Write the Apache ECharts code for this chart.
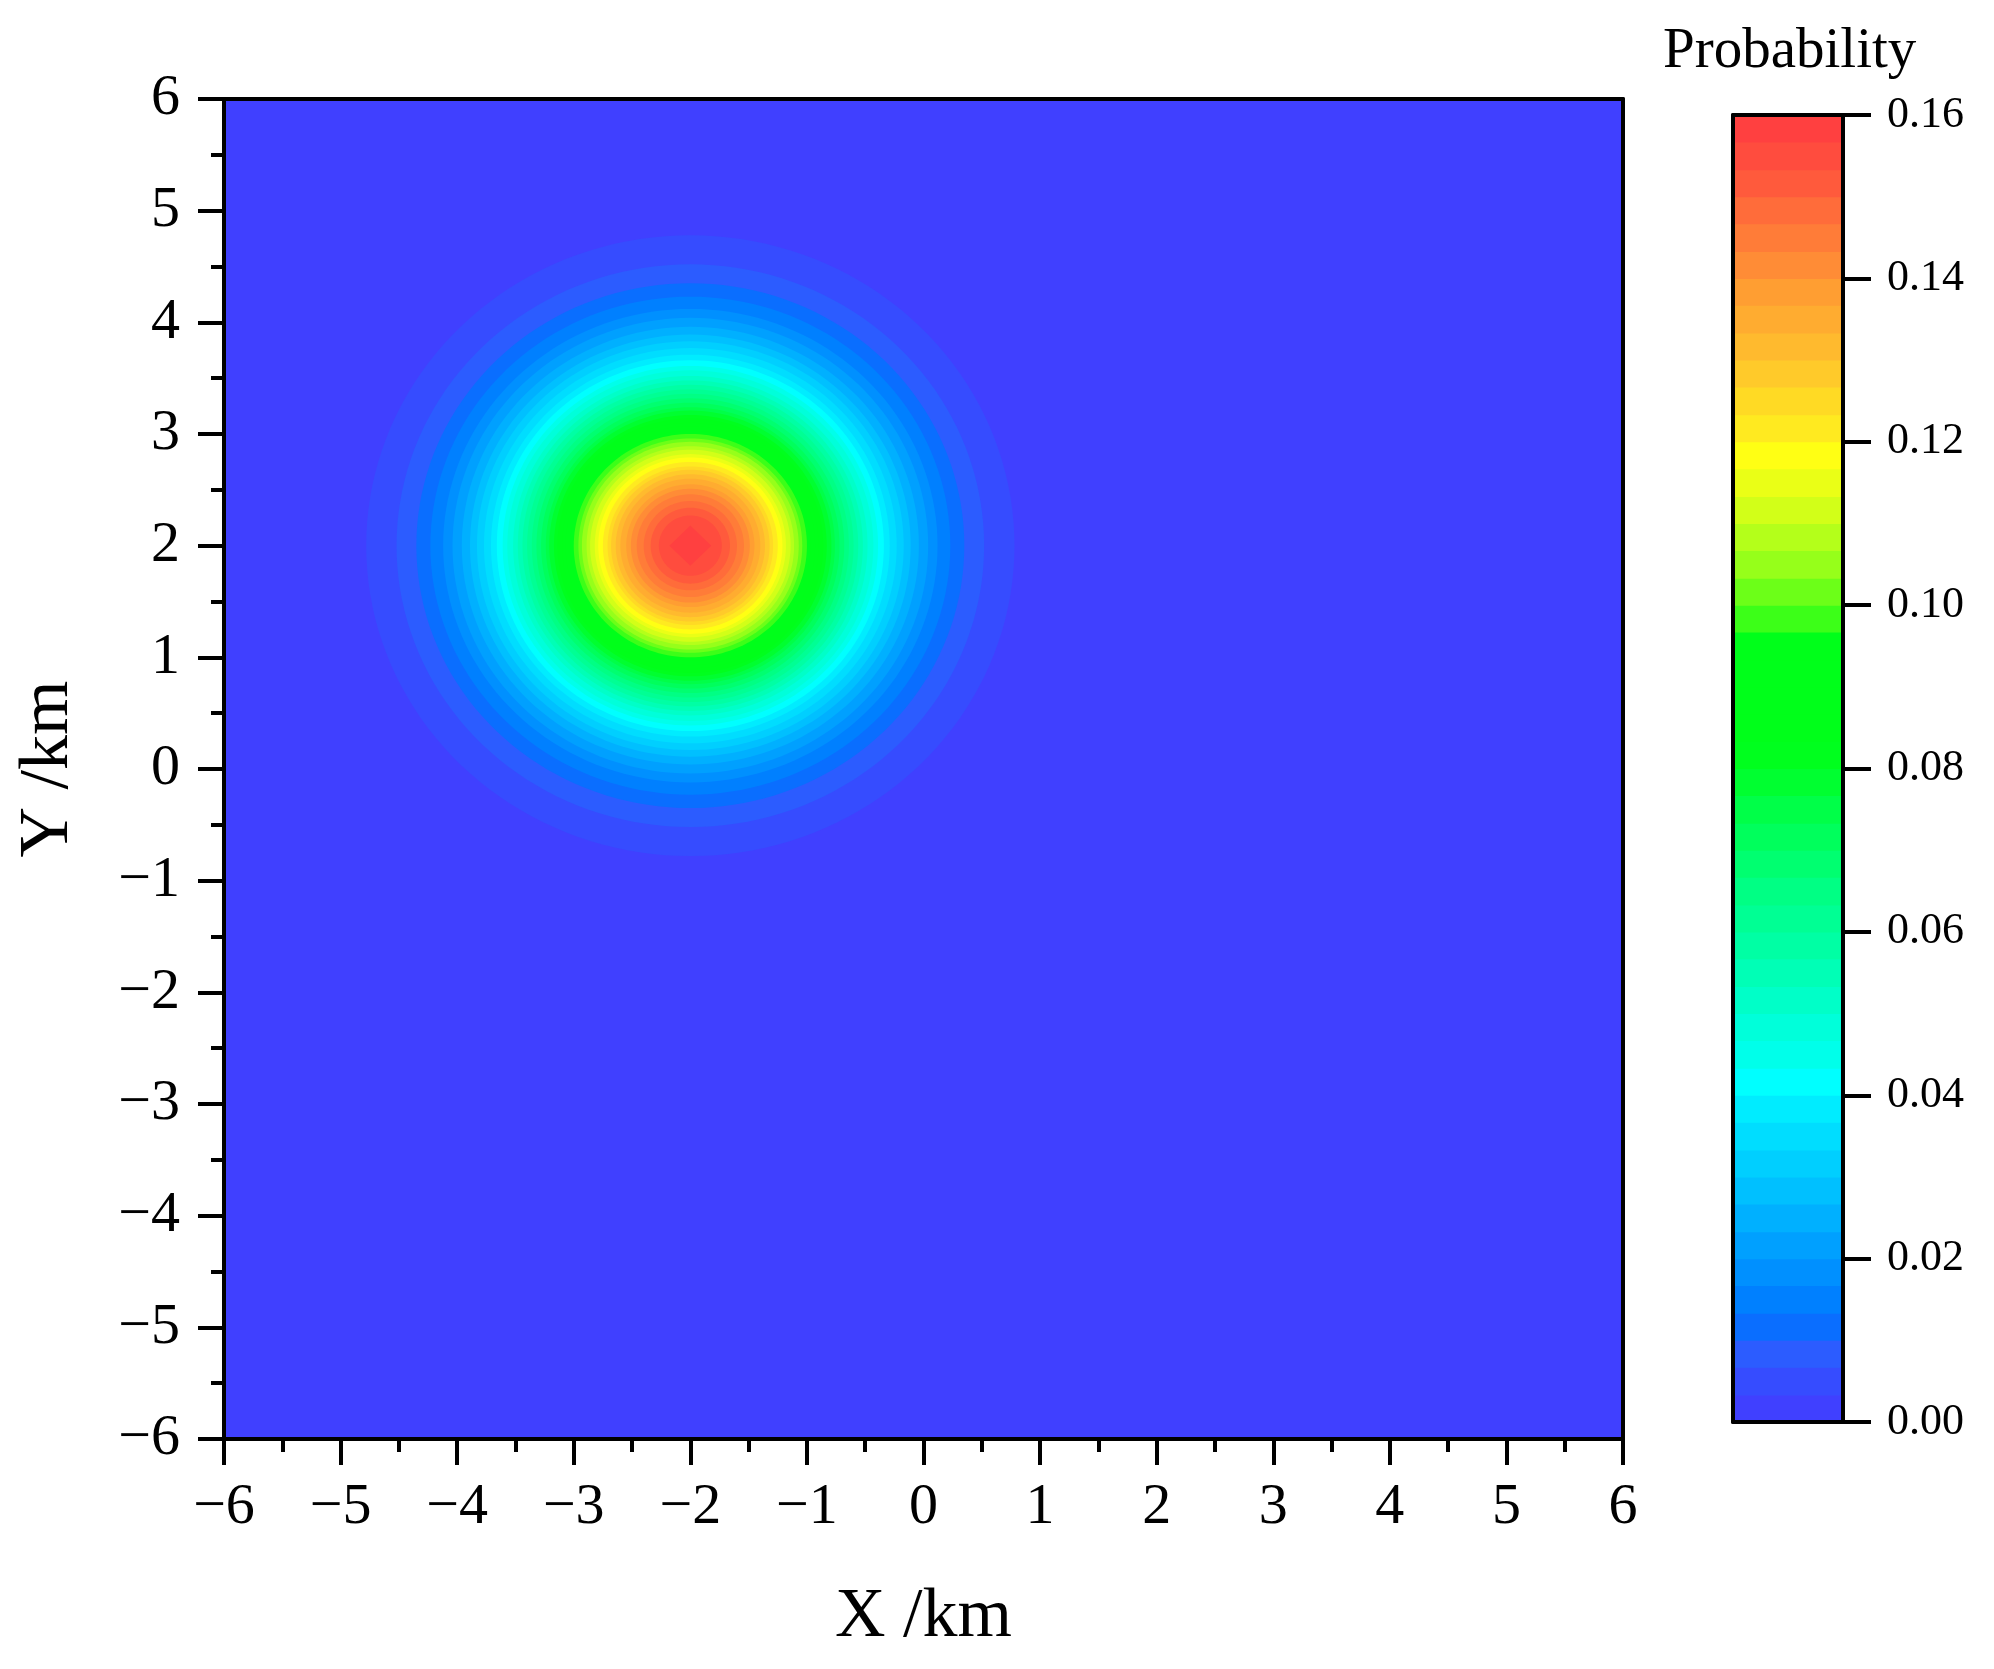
<!DOCTYPE html>
<html>
<head>
<meta charset="utf-8">
<title>Probability</title>
<script src="https://cdn.jsdelivr.net/npm/echarts@6/dist/echarts.min.js"></script>
<style>
  html, body { margin: 0; padding: 0; background: #fff; }
  #chart { width: 1994px; height: 1669px; }
</style>
</head>
<body>
<div id="chart"></div>
<script>
// 概率峰中心 (km)
const peakCenter = [-2, 2];

// 色标分级边界 (48 级)
const levels = [
  0.0000, 0.0033, 0.0067, 0.0100, 0.0133, 0.0167, 0.0200, 0.0233, 0.0267, 0.0300,
  0.0333, 0.0367, 0.0400, 0.0433, 0.0467, 0.0500, 0.0533, 0.0567, 0.0600, 0.0633,
  0.0667, 0.0700, 0.0733, 0.0767, 0.0800, 0.0833, 0.0867, 0.0900, 0.0933, 0.0967,
  0.1000, 0.1033, 0.1067, 0.1100, 0.1133, 0.1167, 0.1200, 0.1233, 0.1267, 0.1300,
  0.1333, 0.1367, 0.1400, 0.1433, 0.1467, 0.1500, 0.1533, 0.1567, 0.1600
];

// 每条等值线的半径 (km)，从图上量取；第 i 个对应 levels[i + 1]
const ringRadius = [
  2.78, 2.52, 2.35, 2.23, 2.12, 2.04, 1.96, 1.89, 1.83, 1.77,
  1.71, 1.66, 1.61, 1.57, 1.52, 1.48, 1.44, 1.40, 1.36, 1.32,
  1.28, 1.24, 1.21, 1.17, 1.14, 1.10, 1.07, 1.03, 1.00, 0.96,
  0.93, 0.89, 0.86, 0.82, 0.79, 0.75, 0.71, 0.68, 0.64, 0.60,
  0.55, 0.51, 0.46, 0.40, 0.34, 0.27, 0.18
];

// 色标颜色，自下而上
const bandColors = [
  '#4040FF', '#364CFF', '#2C5CFF', '#0A6EFF', '#0080FF', '#0090FF', '#00A0FF', '#00B0FF',
  '#00C0FF', '#00CFFF', '#00DDFF', '#00ECFF', '#00FFFF', '#00FFEA', '#00FFDA', '#00FFC8',
  '#00FFB6', '#00FFA4', '#00FF94', '#00FF84', '#00FF70', '#00FF5C', '#00FF48', '#00FF30',
  '#00FF1E', '#00FF1A', '#00FF1A', '#00FF1A', '#00FF1A', '#3CFF18', '#6CFF18', '#96FF1A',
  '#B4FF1A', '#D2FF18', '#EAFF16', '#FFFF14', '#FFEA20', '#FFDA24', '#FFCA2A', '#FFBA2E',
  '#FFAC30', '#FF9E32', '#FF8C36', '#FF7C38', '#FF6C3A', '#FF5A3C', '#FF4C3E', '#FF4040'
];

const FONT = 'Liberation Serif';
const minus = v => String(v).replace('-', '\u2212');

// 等值线：从外到内逐层覆盖
const ringData = ringRadius.map((r, i) => [peakCenter[0], peakCenter[1], r, i + 1]);
// 色标条
const barData = bandColors.map((c, i) => [0.5, levels[i], levels[i + 1], i]);

function renderRing(params, api) {
  const cx = api.value(0), cy = api.value(1), r = api.value(2), k = api.value(3);
  const sides = r < 0.25 ? 4 : 160;  // 最内层为网格插值出的菱形
  const pts = [];
  for (let j = 0; j < sides; j++) {
    const a = 2 * Math.PI * j / sides;
    pts.push(api.coord([cx + r * Math.cos(a), cy + r * Math.sin(a)]));
  }
  return { type: 'polygon', shape: { points: pts }, style: { fill: bandColors[k] } };
}

function renderBand(params, api) {
  const p1 = api.coord([0, api.value(2)]);
  const p2 = api.coord([1, api.value(1)]);
  return {
    type: 'rect',
    shape: { x: p1[0], y: p1[1] - 0.5, width: p2[0] - p1[0], height: p2[1] - p1[1] + 1 },
    style: { fill: bandColors[api.value(3)] }
  };
}

const lineStyle = { color: '#000', width: 4 };
const frameAxis = extra => Object.assign({
  type: 'value',
  axisLine: { show: true, onZero: false, lineStyle: lineStyle },
  axisTick: { show: false },
  axisLabel: { show: false },
  splitLine: { show: false },
  z: 10
}, extra);

const chart = echarts.init(document.getElementById('chart'));
chart.setOption({
  animation: false,
  backgroundColor: '#fff',
  title: {
    text: 'Probability',
    left: 1658,
    top: 19,
    textStyle: { fontFamily: FONT, fontSize: 57, fontWeight: 'normal', color: '#000' }
  },
  grid: [
    { left: 224, top: 99, width: 1399, height: 1340, show: true, backgroundColor: bandColors[0], borderWidth: 0 },
    { left: 1733, top: 115, width: 110, height: 1307 }
  ],
  xAxis: [
    frameAxis({
      gridIndex: 0, min: -6, max: 6, interval: 1, position: 'bottom',
      axisTick: { show: true, inside: false, length: 26, lineStyle: lineStyle },
      minorTick: { show: true, splitNumber: 2, length: 13, lineStyle: lineStyle },
      axisLabel: { show: true, margin: 40, fontFamily: FONT, fontSize: 58, color: '#000', formatter: minus },
      name: 'X /km', nameLocation: 'middle', nameGap: 144,
      nameTextStyle: { fontFamily: FONT, fontSize: 70, color: '#000' }
    }),
    frameAxis({ gridIndex: 0, min: -6, max: 6, position: 'top' }),
    frameAxis({ gridIndex: 1, min: 0, max: 1, position: 'bottom' }),
    frameAxis({ gridIndex: 1, min: 0, max: 1, position: 'top' })
  ],
  yAxis: [
    frameAxis({
      gridIndex: 0, min: -6, max: 6, interval: 1, position: 'left',
      axisTick: { show: true, inside: false, length: 26, lineStyle: lineStyle },
      minorTick: { show: true, splitNumber: 2, length: 13, lineStyle: lineStyle },
      axisLabel: { show: true, margin: 44, fontFamily: FONT, fontSize: 58, color: '#000', formatter: minus },
      name: 'Y /km', nameLocation: 'middle', nameGap: 140,
      nameTextStyle: { fontFamily: FONT, fontSize: 70, color: '#000' }
    }),
    frameAxis({ gridIndex: 0, min: -6, max: 6, position: 'right' }),
    frameAxis({
      gridIndex: 1, min: 0, max: 0.16, interval: 0.02, position: 'right',
      axisTick: { show: true, inside: false, length: 28, lineStyle: lineStyle },
      axisLabel: { show: true, margin: 44, fontFamily: FONT, fontSize: 44, color: '#000',
        formatter: v => v.toFixed(2) }
    }),
    frameAxis({ gridIndex: 1, min: 0, max: 0.16, position: 'left' })
  ],
  series: [
    {
      type: 'custom',
      xAxisIndex: 0, yAxisIndex: 0,
      encode: { x: 0, y: 1 },
      renderItem: renderRing,
      data: ringData,
      silent: true
    },
    {
      type: 'custom',
      xAxisIndex: 2, yAxisIndex: 2,
      encode: { x: 0, y: 1 },
      renderItem: renderBand,
      data: barData,
      silent: true
    }
  ]
});
</script>
</body>
</html>
